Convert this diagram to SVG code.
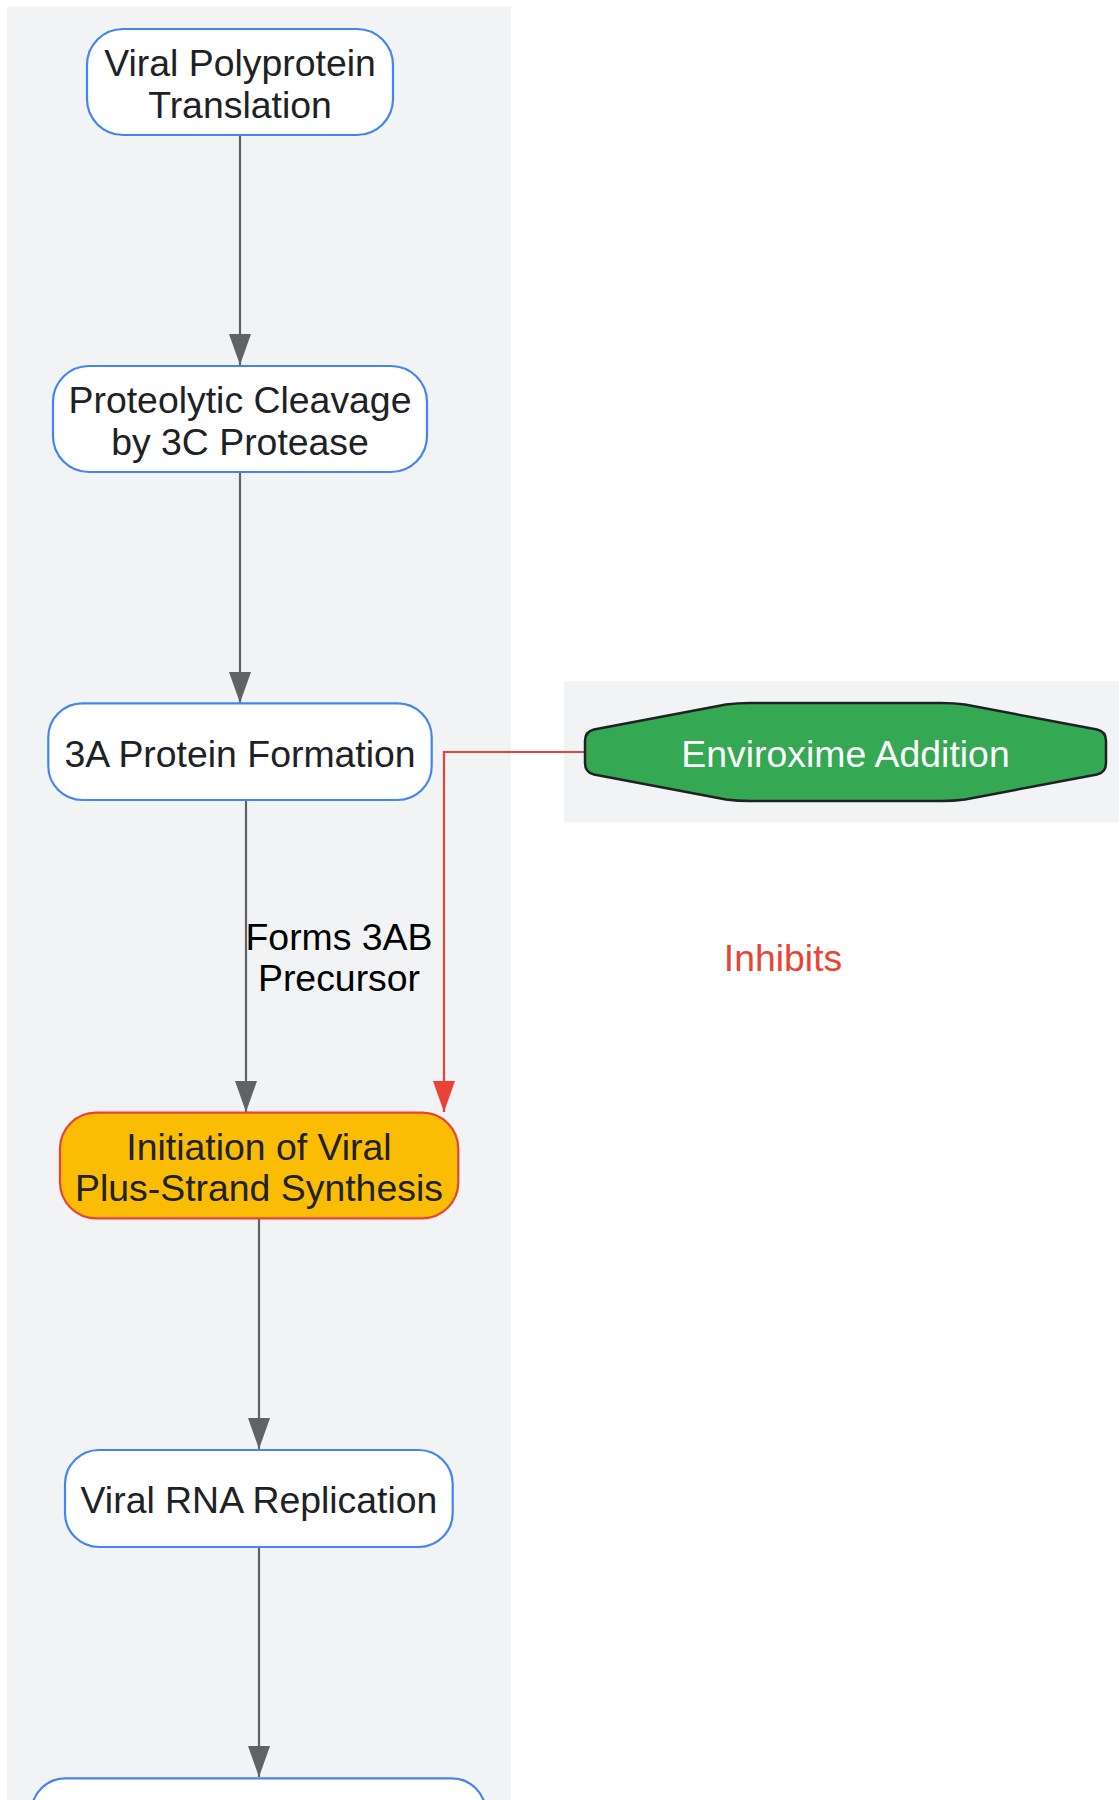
<svg xmlns="http://www.w3.org/2000/svg" width="1119" height="1800" viewBox="0 0 1119 1800">
<style>
.cl{fill:#F1F3F4;stroke:none}
.nd{fill:#FFFFFF;stroke:#4285F4;stroke-width:2.2}
.t{font-family:"Liberation Sans",Arial,Helvetica,sans-serif;font-size:37.4px;fill:#202124;text-anchor:middle}
.e{fill:none;stroke:#5F6368;stroke-width:2.2}
.r{fill:none;stroke:#EA4335;stroke-width:2.2}
.lbl{font-family:"Liberation Sans",Arial,Helvetica,sans-serif;font-size:37.4px;fill:#000000;text-anchor:middle}
.lr{font-family:"Liberation Sans",Arial,Helvetica,sans-serif;font-size:37.4px;fill:#EA4335;text-anchor:middle}
</style>
<defs>
<marker id="ag" markerUnits="userSpaceOnUse" markerWidth="32" markerHeight="23" refX="31" refY="11" orient="auto">
<path d="M0,0 L31,11 L0,22 Z" fill="#5F6368"/>
</marker>
<marker id="ar" markerUnits="userSpaceOnUse" markerWidth="32" markerHeight="23" refX="31" refY="11" orient="auto">
<path d="M0,0 L31,11 L0,22 Z" fill="#EA4335"/>
</marker>
</defs>
<rect width="1119" height="1800" fill="#FFFFFF"/>
<g id="clusters">
<rect class="cl" x="7" y="6.5" width="504" height="1800"/>
<rect class="cl" x="564" y="681" width="560" height="141.5"/>
</g>
<g id="connectors">
<path class="e" d="M240,135 V365" marker-end="url(#ag)"/>
<path class="e" d="M240,472 V703" marker-end="url(#ag)"/>
<path class="e" d="M246,800 V1112" marker-end="url(#ag)"/>
<path class="r" d="M585,752 H444 V1112" marker-end="url(#ar)"/>
<path class="e" d="M259,1218 V1449" marker-end="url(#ag)"/>
<path class="e" d="M259,1547 V1777" marker-end="url(#ag)"/>
<text class="lbl" x="339" y="949.5">Forms 3AB</text>
<text class="lbl" x="339" y="990.5">Precursor</text>
<text class="lr" x="783" y="970.5">Inhibits</text>
</g>
<g id="n1">
<rect class="nd" x="87" y="29" width="306" height="106" rx="36" ry="36"/>
<text class="t" x="240" y="76">Viral Polyprotein</text>
<text class="t" x="240" y="118">Translation</text>
</g>
<g id="n2">
<rect class="nd" x="53" y="366" width="374" height="106" rx="36" ry="36"/>
<text class="t" x="240" y="413">Proteolytic Cleavage</text>
<text class="t" x="240" y="455">by 3C Protease</text>
</g>
<g id="n3">
<rect class="nd" x="48.3" y="703.3" width="383.4" height="96.7" rx="34" ry="34"/>
<text class="t" x="240" y="766.5">3A Protein Formation</text>
</g>
<g id="n7">
<path d="M585,741 Q585,731.5 594,729.5 L726,704.5 Q737,703 750,703 L941,703 Q954,703 965,704.5 L1097,729.5 Q1106,731.5 1106,741 L1106,763 Q1106,772.5 1097,774.5 L965,799.5 Q954,801 941,801 L750,801 Q737,801 726,799.5 L594,774.5 Q585,772.5 585,763 Z" fill="#34A853" stroke="#202124" stroke-width="2.5"/>
<text class="t" x="845.5" y="766.5" style="fill:#FFFFFF">Enviroxime Addition</text>
</g>
<g id="n4">
<rect x="60" y="1112.7" width="398.3" height="105.6" rx="36" ry="36" fill="#FBBC04" stroke="#EA4335" stroke-width="2.2"/>
<text class="t" x="259" y="1160">Initiation of Viral</text>
<text class="t" x="259" y="1201">Plus-Strand Synthesis</text>
</g>
<g id="n5">
<rect class="nd" x="65" y="1450" width="387.7" height="97" rx="34" ry="34"/>
<text class="t" x="259" y="1512.5">Viral RNA Replication</text>
</g>
<g id="n6">
<rect class="nd" x="31.4" y="1778.3" width="454.3" height="97" rx="34" ry="34"/>
</g>
</svg>
